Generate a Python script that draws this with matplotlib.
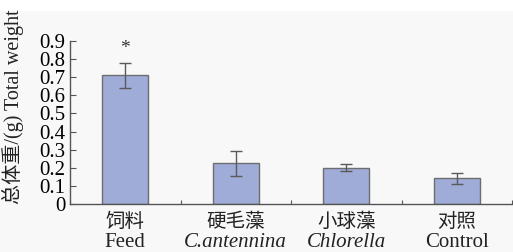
import matplotlib

matplotlib.use("Agg")
import matplotlib.pyplot as plt
from matplotlib.patches import Rectangle
from matplotlib.transforms import blended_transform_factory
import numpy as np

# chart data
labels_cn = ["饲料", "硬毛藻", "小球藻", "对照"]
labels_en = ["Feed", "C.antennina", "Chlorella", "Control"]
italic_en = [False, True, True, False]
weights = [0.71, 0.225, 0.20, 0.142]
errors = [0.07, 0.07, 0.02, 0.03]
signif = ["*", "", "", ""]
yticks = [0, 0.1, 0.2, 0.3, 0.4, 0.5, 0.6, 0.7, 0.8, 0.9]
ytick_labels = ["0", "0.1", "0.2", "0.3", "0.4", "0.5", "0.6", "0.7", "0.8", "0.9"]

plt.rcParams["font.family"] = ["Liberation Serif", "Noto Sans CJK SC"]

fig = plt.figure(figsize=(5.13, 2.52), dpi=100, facecolor="#f8f8f8")
fig.patches.append(Rectangle((0, 1 - 11 / 252), 1, 11 / 252, transform=fig.transFigure,
                             facecolor="white", edgecolor="none", zorder=-1))
ax = fig.add_axes([70 / 513, 1 - 204 / 252, 442 / 513, 163 / 252])
ax.set_facecolor("none")

x = np.arange(len(weights))
ax.bar(x, weights, 0.42, color="#a0acd8", edgecolor="#6e6e6e", linewidth=1.0, zorder=2)
ax.errorbar(x, weights, yerr=errors, fmt="none", ecolor="#5a5a5a", elinewidth=1.0,
            capsize=4, capthick=1.0, zorder=3)
for xi, w, e, s in zip(x, weights, errors, signif):
    if s:
        ax.text(xi, w + e + 0.08, s, ha="center", va="center", fontsize=14, color="#333333")

ax.set_xlim(-0.5, 3.5)
ax.set_ylim(0, 0.9)
ax.set_yticks(yticks)
ax.set_yticklabels(ytick_labels, fontsize=15)
ax.set_xticks(np.arange(-0.5, 4, 1.0))
ax.set_xticklabels([])
ax.tick_params(axis="x", direction="in", length=3, color="#555555")
ax.tick_params(axis="y", direction="in", length=4, color="#555555", pad=3.5)
for side in ("top", "right"):
    ax.spines[side].set_visible(False)
for side in ("left", "bottom"):
    ax.spines[side].set_color("#555555")
    ax.spines[side].set_linewidth(1.0)

trans = blended_transform_factory(ax.transData, ax.transAxes)
for xi, cn, en, it in zip(x, labels_cn, labels_en, italic_en):
    ax.text(xi, -0.107, cn, transform=trans, ha="center", va="center", fontsize=14,
            family=["Noto Sans CJK SC"], color="#222222")
    ax.text(xi, -0.262, en, transform=trans, ha="center", va="baseline", fontsize=15,
            style="italic" if it else "normal", color="#222222")

fig.text(13 / 513, 0.575, "总体重/(g) Total weight", rotation=90, ha="center", va="center",
         fontsize=14.5, color="#222222")

fig.savefig("out.png", dpi=100, facecolor=fig.get_facecolor())
